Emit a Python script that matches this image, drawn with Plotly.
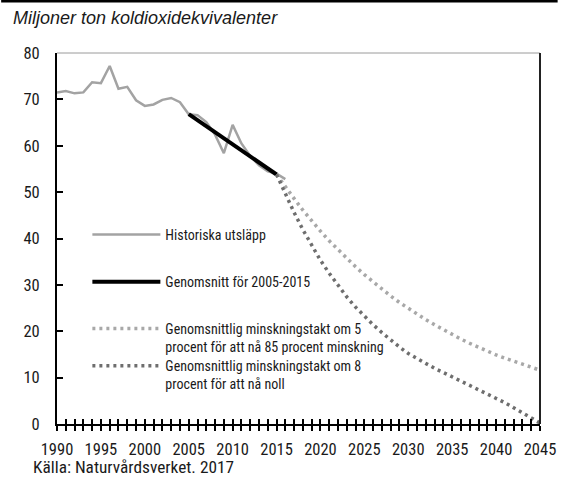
import plotly.graph_objects as go

# Historical emissions, million tonnes CO2-eq
hist_years = list(range(1990, 2017))
hist_values = [71.5, 71.8, 71.3, 71.5, 73.7, 73.5, 77.2, 72.3, 72.7, 69.8,
               68.6, 68.9, 69.9, 70.3, 69.4, 66.8, 66.6, 65.1, 62.4, 58.4,
               64.5, 60.5, 57.8, 55.8, 54.5, 54.0, 52.8]

# Average trend 2005-2015
avg_years = [2005, 2015]
avg_values = [66.8, 53.8]

# Projections from 2015 to 2045
proj_years = list(range(2015, 2046))
proj5_values = [53.8, 51.1, 48.6, 46.1, 43.8, 41.6, 39.5, 37.6, 35.7, 33.9,
                32.2, 30.6, 29.1, 27.6, 26.2, 24.9, 23.7, 22.5, 21.4, 20.3,
                19.3, 18.3, 17.4, 16.5, 15.7, 14.9, 14.2, 13.5, 12.8, 12.2, 11.6]
proj8_values = [53.8, 49.5, 45.6, 41.9, 38.5, 35.3, 32.5, 29.9, 27.4, 25.2,
                23.2, 21.4, 19.7, 18.1, 16.6, 15.2, 14.1, 13.0, 12.0, 11.1,
                10.2, 9.3, 8.4, 7.5, 6.6, 5.7, 4.6, 3.5, 2.4, 1.3, 0.2]

series_names = [
    "Historiska utsläpp",
    "Genomsnitt för 2005-2015",
    "Genomsnittlig minskningstakt om 5<br>procent för att nå 85 procent minskning",
    "Genomsnittlig minskningstakt om 8<br>procent för att nå noll",
]

year_ticks = list(range(1990, 2046))
year_labels = [str(y) if y % 5 == 0 else "" for y in year_ticks]
y_ticks = list(range(0, 90, 10))

COND = "Roboto Condensed, Liberation Sans Narrow, sans-serif"
TXT = "#1a1a1a"

# plot-area geometry in pixels (used to place paper-referenced items)
L, R, T, B = 57, 18, 53, 57
W, H = 568, 481
PW, PH = W - L - R, H - T - B


def px_x(x):
    return (x - L) / PW


def px_y(y):
    return (H - B - y) / PH


fig = go.Figure()
fig.add_trace(go.Scatter(x=hist_years, y=hist_values, mode="lines",
                         name=series_names[0], legend="legend",
                         line=dict(color="#a3a3a3", width=2.5)))
fig.add_trace(go.Scatter(x=avg_years, y=avg_values, mode="lines",
                         name=series_names[1], legend="legend2",
                         line=dict(color="#000000", width=4)))
fig.add_trace(go.Scatter(x=proj_years, y=proj5_values, mode="lines",
                         name=series_names[2], legend="legend3",
                         line=dict(color="#a8a8a8", width=3.5, dash="3px,4px")))
fig.add_trace(go.Scatter(x=proj_years, y=proj8_values, mode="lines",
                         name=series_names[3], legend="legend4",
                         line=dict(color="#6e6e6e", width=3.5, dash="3px,4px")))
# invisible trace carrying the inward half of the year ticks
fig.add_trace(go.Scatter(x=[1990, 2045], y=[0, 0], mode="lines", xaxis="x2",
                         showlegend=False, hoverinfo="skip",
                         line=dict(color="rgba(0,0,0,0)", width=0)))

legend_rows = [234.5, 281.7, 328.3, 365.7]


def legend_box(row):
    return dict(x=px_x(88), y=px_y(row - 15.5), xanchor="left", yanchor="top",
                bgcolor="rgba(0,0,0,0)", borderwidth=0, valign="top", itemwidth=68,
                font=dict(family=COND, size=14, color=TXT))


fig.update_layout(
    width=W, height=H,
    margin=dict(l=L, r=R, t=T, b=B),
    plot_bgcolor="white", paper_bgcolor="white",
    font=dict(family=COND, size=14, color=TXT),
    xaxis=dict(range=[1990, 2045], tickmode="array", tickvals=year_ticks,
               ticktext=year_labels, ticks="outside", ticklen=5, tickwidth=1.5,
               tickcolor="#000", showline=True, linecolor="#000", linewidth=2,
               showgrid=False, zeroline=False, tickangle=0,
               ticklabeloverflow="allow", ticklabelstandoff=4,
               tickfont=dict(family=COND, size=16.5, color=TXT)),
    xaxis2=dict(range=[1990, 2045], overlaying="x", anchor="y", side="bottom",
                tickmode="array", tickvals=year_ticks, showticklabels=False,
                ticks="inside", ticklen=5, tickwidth=1.5, tickcolor="#000",
                showgrid=False, zeroline=False, showline=False),
    yaxis=dict(range=[0, 80], tickmode="array", tickvals=y_ticks,
               ticks="inside", ticklen=6, tickwidth=1.5, tickcolor="#000",
               showline=True, linecolor="#000", linewidth=2, showgrid=False,
               zeroline=False, ticklabelstandoff=12,
               tickfont=dict(family=COND, size=16.5, color=TXT)),
    legend=legend_box(legend_rows[0]),
    legend2=legend_box(legend_rows[1]),
    legend3=legend_box(legend_rows[2]),
    legend4=legend_box(legend_rows[3]),
    showlegend=True,
)

# frame: light top edge, dark right edge, rule above the heading
fig.add_shape(type="line", xref="paper", yref="paper", x0=0, x1=1, y0=1, y1=1,
              line=dict(color="#9a9a9a", width=1))
fig.add_shape(type="line", xref="paper", yref="paper", x0=1, x1=1, y0=0, y1=1,
              line=dict(color="#222222", width=2))
fig.add_shape(type="line", xref="paper", yref="paper", x0=px_x(0), x1=px_x(W),
              y0=px_y(1.3), y1=px_y(1.3), line=dict(color="#000000", width=2.5))

fig.add_annotation(text="<i>Miljoner ton koldioxidekvivalenter</i>", xref="paper", yref="paper",
                   x=px_x(10), y=px_y(18), xanchor="left", yanchor="middle",
                   showarrow=False, font=dict(family="Liberation Sans, Arial, sans-serif",
                                              size=18, color=TXT))
fig.add_annotation(text="Källa: Naturvårdsverket. 2017", xref="paper", yref="paper",
                   x=px_x(30), y=px_y(467), xanchor="left", yanchor="middle",
                   showarrow=False, font=dict(family=COND, size=17.3, color=TXT))

fig.write_html("out.html")
